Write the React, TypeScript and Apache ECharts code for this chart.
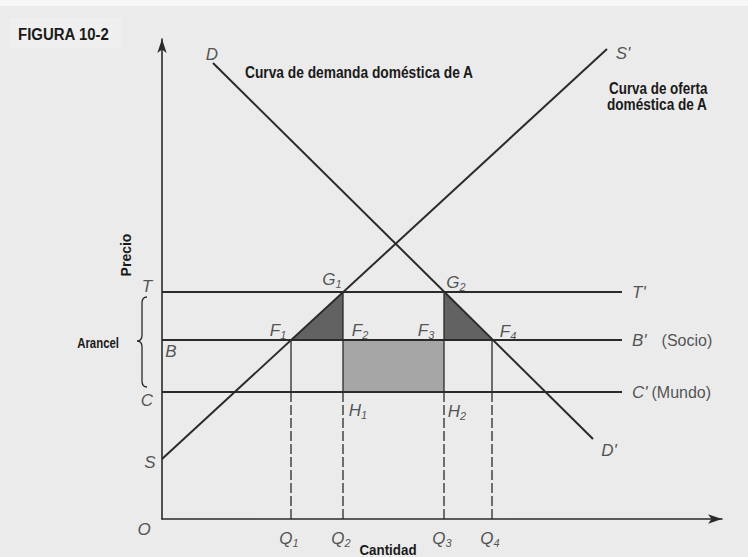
import React, { useEffect, useRef } from "react";
import * as echarts from "echarts";

// ---- data (1 unit = 10 px) ----
const levelNames = ["T", "B", "C"];
const levelPrices = [22.7, 17.9, 12.7];
const levelLineEnd = 46;
const quantityNames = ["Q1", "Q2", "Q3", "Q4"];
const quantities = [12.9, 18.1, 28.2, 33.0];
const quantityTopLevel = ["B", "T", "T", "B"];
const supplyPoints = [
  [0, 6.0],
  [44.5, 47.0],
];
const demandPoints = [
  [5.1, 45.6],
  [43.1, 8.0],
];
const xMax = 56;
const yMax = 48;

const FONT = '"Liberation Sans", Arial, sans-serif';
const INK = "#2a2a2a";

const price = (n: string) => levelPrices[levelNames.indexOf(n)];

function sub(name: string) {
  const m = name.match(/^([A-Z]'?)(\d*)$/);
  if (!m) return `{m|${name}}`;
  return m[2] ? `{m|${m[1]}}{s|${m[2]}}` : `{m|${m[1]}}`;
}

export default function App() {
  const ref = useRef<HTMLDivElement>(null);

  useEffect(() => {
    if (!ref.current) return;
    const chart = echarts.init(ref.current, undefined, { renderer: "svg" });

    const T = price("T");
    const B = price("B");
    const C = price("C");
    const [q1, q2, q3, q4] = quantities;

    const polygons = [
      { pts: [[q1, B], [q2, T], [q2, B]], color: "#626262" },
      { pts: [[q3, T], [q3, B], [q4, B]], color: "#626262" },
      { pts: [[q2, B], [q3, B], [q3, C], [q2, C]], color: "#a6a6a6" },
    ];

    const baseRich = {
      m: { fontFamily: FONT, fontStyle: "italic", fontSize: 17, color: INK, lineHeight: 20 },
      s: { fontFamily: FONT, fontStyle: "italic", fontSize: 11, color: INK, lineHeight: 11, verticalAlign: "bottom" },
    };

    type Lab = { name: string; at: number[]; off: number[]; text?: string; align?: string };
    const labels: Lab[] = [
      { name: "F1", at: [q1, B], off: [-13, -10] },
      { name: "F2", at: [q2, B], off: [17, -10] },
      { name: "F3", at: [q3, B], off: [-18, -10] },
      { name: "F4", at: [q4, B], off: [16, -9] },
      { name: "G1", at: [q2, T], off: [-11, -13] },
      { name: "G2", at: [q3, T], off: [12, -10] },
      { name: "H1", at: [q2, C], off: [15, 18] },
      { name: "H2", at: [q3, C], off: [13, 19] },
      { name: "T", at: [0, T], off: [-15, -6] },
      { name: "B", at: [0, B], off: [9, 11] },
      { name: "C", at: [0, C], off: [-15, 8] },
      { name: "S", at: supplyPoints[0], off: [-12, 3] },
      { name: "O", at: [0, 0], off: [-18, 10] },
      { name: "D", at: demandPoints[0], off: [-1, -9] },
      { name: "D'", at: demandPoints[1], off: [16, 11] },
      { name: "S'", at: supplyPoints[1], off: [16, 4] },
      ...quantityNames.map((n, i) => ({ name: n, at: [quantities[i], 0], off: [-2, 19] })),
      { name: "T'", at: [levelLineEnd, T], off: [10, 0], align: "left" },
      { name: "B'", at: [levelLineEnd, B], off: [10, 0], align: "left", text: "{m|B'}{p|(Socio)}" },
      { name: "C'", at: [levelLineEnd, C], off: [10, 0], align: "left", text: "{m|C'}{q|(Mundo)}" },
    ];

    const hLine = (y: number) => [
      [0, y],
      [levelLineEnd, y],
    ];

    const series: any[] = [
      {
        type: "custom",
        renderItem: (params: any, api: any) => {
          const p = polygons[params.dataIndex];
          return {
            type: "polygon",
            shape: { points: p.pts.map((pt) => api.coord(pt)) },
            style: { fill: p.color },
          };
        },
        data: polygons.map((_, i) => [i]),
        z: 1,
        silent: true,
      },
      ...levelNames.map((n) => ({
        type: "line",
        data: hLine(price(n)),
        symbol: "none",
        lineStyle: { color: INK, width: 1.9 },
        z: 3,
      })),
      {
        type: "line",
        data: supplyPoints,
        symbol: "none",
        lineStyle: { color: INK, width: 2 },
        z: 4,
      },
      {
        type: "line",
        data: demandPoints,
        symbol: "none",
        lineStyle: { color: INK, width: 2 },
        z: 4,
      },
      ...quantities.map((q) => ({
        type: "line",
        data: [
          [q, 0],
          [q, C],
        ],
        symbol: "none",
        lineStyle: { color: INK, width: 1.3, type: [10, 3] },
        z: 2,
      })),
      ...quantities.map((q, i) => ({
        type: "line",
        data: [
          [q, C],
          [q, price(quantityTopLevel[i])],
        ],
        symbol: "none",
        lineStyle: { color: INK, width: 1.3 },
        z: 2,
      })),
      {
        type: "scatter",
        symbolSize: 0,
        z: 6,
        silent: true,
        data: labels.map((l) => ({
          value: l.at,
          label: {
            show: true,
            position: "inside",
            offset: l.off,
            align: l.align || "center",
            verticalAlign: "middle",
            formatter: l.text || sub(l.name),
            rich: {
              ...baseRich,
              p: { fontFamily: FONT, fontSize: 16, color: INK, lineHeight: 20, padding: [0, 0, 0, 15] },
              q: { fontFamily: FONT, fontSize: 16, color: INK, lineHeight: 20, padding: [0, 0, 0, 4] },
            },
          },
        })),
      },
    ];

    const braceD =
      "M147 297 C143 297 142 299 142 303 L142 335 C142 339 141 341 137 341 C141 341 142 343 142 347 L142 381 C142 385 143 387 147 387";
    echarts.graphic.registerShape("brace", (echarts.graphic as any).extendPath(braceD, {}));

    const boldText = (
      text: string,
      x: number,
      y: number,
      size: number,
      scaleX: number,
      align = "left",
      extra: any = {}
    ) => ({
      type: "text",
      x,
      y,
      scaleX,
      ...extra,
      style: {
        text,
        fontFamily: FONT,
        fontWeight: "bold",
        fontSize: size,
        fill: "#1a1a1a",
        align,
        verticalAlign: "middle",
      },
      silent: true,
      z: 10,
    });

    chart.setOption({
      animation: false,
      backgroundColor: "#ebebeb",
      grid: { left: 162, top: 39, width: 560, height: 480, containLabel: false },
      xAxis: {
        type: "value",
        min: 0,
        max: xMax,
        axisLine: {
          show: true,
          symbol: ["none", "arrow"],
          symbolSize: [7, 14],
          lineStyle: { color: INK, width: 1.6 },
        },
        axisTick: { show: false },
        axisLabel: { show: false },
        splitLine: { show: false },
      },
      yAxis: {
        type: "value",
        min: 0,
        max: yMax,
        axisLine: {
          show: true,
          symbol: ["none", "arrow"],
          symbolSize: [7, 14],
          lineStyle: { color: INK, width: 1.6 },
        },
        axisTick: { show: false },
        axisLabel: { show: false },
        splitLine: { show: false },
      },
      graphic: [
        { type: "rect", shape: { x: 0, y: 0, width: 748, height: 6 }, style: { fill: "#f7f7f7" }, z: 0 },
        { type: "rect", shape: { x: 10, y: 18, width: 112, height: 30 }, style: { fill: "#efefef" }, z: 0 },
        boldText("FIGURA 10-2", 18, 34, 17, 0.88),
        boldText("Curva de demanda doméstica de A", 245, 72, 17, 0.81),
        boldText("Curva de oferta", 609, 88, 17, 0.79),
        boldText("doméstica de A", 607, 104, 17, 0.8),
        boldText("Precio", 126, 255, 14, 1, "center", { rotation: Math.PI / 2 }),
        boldText("Cantidad", 388, 550, 15, 0.89, "center"),
        boldText("Arancel", 119, 343, 15, 0.76, "right"),
        {
          type: "brace",
          x: 0,
          y: 0,
          style: { fill: "none", stroke: INK, lineWidth: 1.3 },
          silent: true,
          z: 10,
        },
      ],
      series,
    });

    return () => chart.dispose();
  }, []);

  return (
    <div
      ref={ref}
      style={{ position: "fixed", left: 0, top: 0, width: 748, height: 557 }}
    />
  );
}
